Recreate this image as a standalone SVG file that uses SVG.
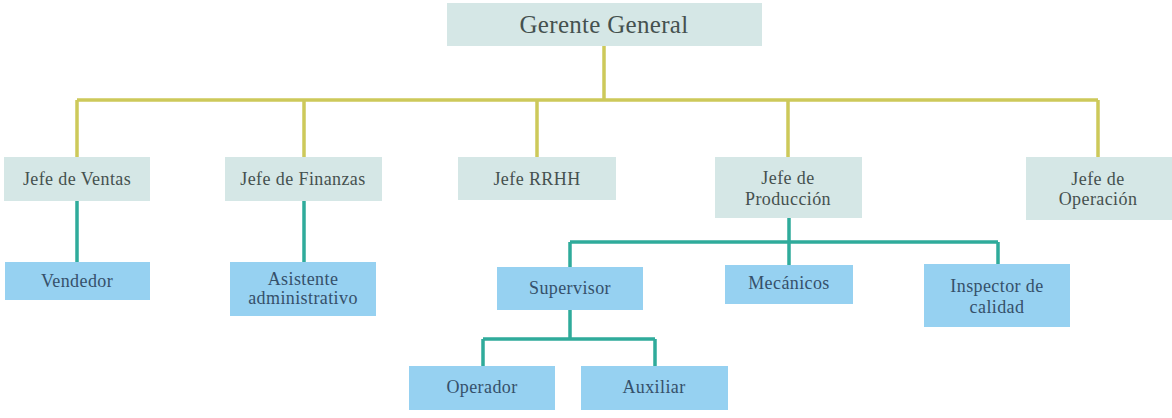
<svg xmlns="http://www.w3.org/2000/svg" width="1172" height="418" viewBox="0 0 1172 418">
<style>
.h{fill:#d5e7e6}
.b{fill:#96d1f1}
.t{font-family:"Liberation Serif","DejaVu Serif",serif;font-size:18px;text-anchor:middle;letter-spacing:0.4px}
.th{fill:#45514f}
.tb{fill:#35506a}
.y{stroke:#cdc95a;stroke-width:3.5;fill:none}
.g{stroke:#2fab9b;stroke-width:3.5;fill:none}
</style>
<rect width="1172" height="418" fill="#ffffff"/>
<g id="connectors">
<path class="y" d="M604 46V100M77 100H1098M77 100V157M304 100V157M537 100V157M788 100V157M1098 100V157"/>
<path class="g" d="M77 201V262M304 201V262M789 218V242M570 242H998M570 242V267M789 242V265M998 242V264M570 310V339M483 339H655M483 339V366M655 339V366"/>
</g>
<g id="gerente"><rect class="h" x="447" y="3" width="315" height="43"/><text class="t th" x="604" y="33" style="font-size:25px;letter-spacing:0.3px">Gerente General</text></g>
<g id="ventas"><rect class="h" x="4" y="157" width="146" height="44"/><text class="t th" x="77" y="185">Jefe de Ventas</text></g>
<g id="finanzas"><rect class="h" x="225" y="157" width="157" height="44"/><text class="t th" x="303" y="185">Jefe de Finanzas</text></g>
<g id="rrhh"><rect class="h" x="458" y="157" width="158" height="43"/><text class="t th" x="537" y="185">Jefe RRHH</text></g>
<g id="produccion"><rect class="h" x="715" y="157" width="147" height="61"/><text class="t th" x="788" y="184">Jefe de</text><text class="t th" x="788" y="205">Producción</text></g>
<g id="operacion"><rect class="h" x="1026" y="157" width="146" height="63"/><text class="t th" x="1098" y="185">Jefe de</text><text class="t th" x="1098" y="205">Operación</text></g>
<g id="vendedor"><rect class="b" x="5" y="262" width="145" height="38"/><text class="t tb" x="77" y="287">Vendedor</text></g>
<g id="asistente"><rect class="b" x="230" y="262" width="146" height="54"/><text class="t tb" x="303" y="285">Asistente</text><text class="t tb" x="303" y="304">administrativo</text></g>
<g id="supervisor"><rect class="b" x="497" y="267" width="146" height="43"/><text class="t tb" x="570" y="294">Supervisor</text></g>
<g id="mecanicos"><rect class="b" x="725" y="265" width="128" height="39"/><text class="t tb" x="789" y="289">Mecánicos</text></g>
<g id="inspector"><rect class="b" x="924" y="264" width="146" height="63"/><text class="t tb" x="997" y="292">Inspector de</text><text class="t tb" x="997" y="313">calidad</text></g>
<g id="operador"><rect class="b" x="409" y="366" width="146" height="44"/><text class="t tb" x="482" y="393">Operador</text></g>
<g id="auxiliar"><rect class="b" x="581" y="366" width="147" height="44"/><text class="t tb" x="654" y="393">Auxiliar</text></g>
</svg>
